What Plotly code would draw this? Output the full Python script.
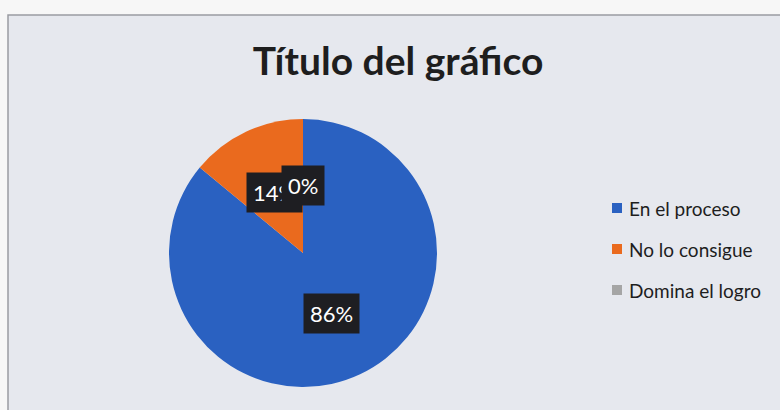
import math
import plotly.graph_objects as go

categories = ["En el proceso", "No lo consigue", "Domina el logro"]
values = [86, 14, 0]
colors = ["#2a61c1", "#ea6a1e", "#a5a5a5"]
title_text = "Título del gráfico"

W, H = 780, 410
cx_px, cy_px, r_px = 303, 253, 134

fig = go.Figure()
fig.add_trace(go.Pie(
    labels=categories,
    values=values,
    sort=False,
    direction="clockwise",
    rotation=0,
    marker=dict(colors=colors, line=dict(width=0)),
    textinfo="none",
    hoverinfo="label+percent",
    domain=dict(x=[(cx_px - r_px) / W, (cx_px + r_px) / W],
                y=[1 - (cy_px + r_px) / H, 1 - (cy_px - r_px) / H]),
    showlegend=False,
))

# data labels (dark boxes) placed at slice mid-angles, computed from values
total = sum(values)
cum = 0
for cat, v in zip(categories, values):
    mid = (cum + v / 2) / total * 2 * math.pi
    cum += v
    d = 0.5 * r_px
    px = cx_px + d * math.sin(mid)
    py = cy_px - d * math.cos(mid)
    pct = round(v / total * 100)
    fig.add_annotation(
        x=px / W, y=1 - py / H, xref="paper", yref="paper",
        xanchor="center", yanchor="middle",
        text=f"{pct}%", showarrow=False,
        font=dict(family="Lato", size=22, color="white"),
        bgcolor="#1e1e22", borderpad=6,
    )

# legend drawn from the category list
leg_x, leg_y0, leg_dy = 612, 208, 41
for i, (cat, col) in enumerate(zip(categories, colors)):
    yy = leg_y0 + i * leg_dy
    fig.add_shape(type="rect", xref="paper", yref="paper",
                  x0=leg_x / W, x1=(leg_x + 10) / W,
                  y0=1 - (yy + 5) / H, y1=1 - (yy - 5) / H,
                  fillcolor=col, line=dict(width=0))
    fig.add_annotation(x=(leg_x + 15) / W, y=1 - yy / H, xref="paper", yref="paper",
                       xanchor="left", yanchor="middle", showarrow=False,
                       text=cat, font=dict(family="Lato", size=19, color="#1e1e1e"))

# chart area frame
fig.add_shape(type="rect", xref="paper", yref="paper",
              x0=8 / W, x1=1.01, y0=-0.01, y1=1 - 15 / H,
              fillcolor="#e6e8ee", line=dict(color="#9a9ca2", width=1.5),
              layer="below")

fig.update_layout(
    width=W, height=H,
    margin=dict(l=0, r=0, t=0, b=0),
    paper_bgcolor="#f7f7f7",
    plot_bgcolor="rgba(0,0,0,0)",
    title=dict(text=title_text, x=398 / W, xanchor="center", y=1 - 61 / H, yanchor="middle",
               font=dict(family="Lato", size=39, color="#1e1e1e", weight="bold")),
    showlegend=False,
)

fig.write_html("out.html", config={"displayModeBar": False},
               post_script="document.body.style.margin='0';")
